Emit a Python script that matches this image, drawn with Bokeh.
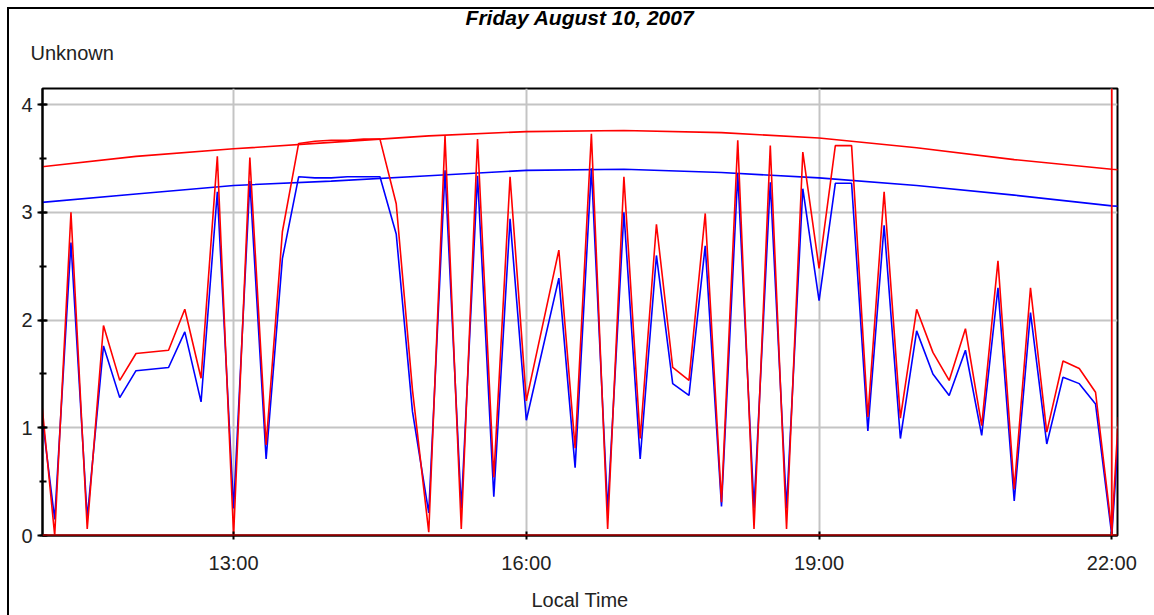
import pandas as pd
from bokeh.plotting import figure
from bokeh.models import Range1d, FixedTicker, DatetimeTickFormatter, Span, Title
from bokeh.embed import file_html
from bokeh.resources import INLINE

DAY = "2007-08-10"

# Measured values (10-minute samples), upper (red) and lower (blue) channels
measured_times = [
    "11:00", "11:10", "11:20", "11:30", "11:40", "11:50", "12:00", "12:20", "12:30", "12:40",
    "12:50", "13:00", "13:10", "13:20", "13:30", "13:40", "13:50", "14:00", "14:10", "14:20",
    "14:30", "14:40", "14:50", "15:00", "15:10", "15:20", "15:30", "15:40", "15:50", "16:00",
    "16:20", "16:30", "16:40", "16:50", "17:00", "17:10", "17:20", "17:30", "17:40", "17:50",
    "18:00", "18:10", "18:20", "18:30", "18:40", "18:50", "19:00", "19:10", "19:20", "19:30",
    "19:40", "19:50", "20:00", "20:10", "20:20", "20:30", "20:40", "20:50", "21:00", "21:10",
    "21:20", "21:30", "21:40", "21:50", "22:00", "22:04",
]
measured_upper = [
    1.55, 0.00, 3.00, 0.06, 1.95, 1.44, 1.69, 1.72, 2.10, 1.46,
    3.52, 0.00, 3.51, 0.84, 2.82, 3.64, 3.66, 3.67, 3.67, 3.68,
    3.68, 3.08, 1.35, 0.03, 3.71, 0.06, 3.68, 0.54, 3.33, 1.25,
    2.65, 0.81, 3.73, 0.06, 3.33, 0.90, 2.89, 1.56, 1.44, 2.99,
    0.31, 3.67, 0.06, 3.62, 0.06, 3.56, 2.48, 3.62, 3.62, 1.10,
    3.19, 1.09, 2.10, 1.70, 1.44, 1.92, 1.02, 2.55, 0.43, 2.30,
    0.96, 1.62, 1.55, 1.33, 0.04, 1.10,
]
measured_lower = [
    1.38, 0.15, 2.72, 0.16, 1.76, 1.28, 1.53, 1.56, 1.89, 1.24,
    3.19, 0.25, 3.29, 0.71, 2.57, 3.33, 3.32, 3.32, 3.33, 3.33,
    3.33, 2.80, 1.15, 0.21, 3.39, 0.25, 3.34, 0.36, 2.94, 1.07,
    2.39, 0.63, 3.41, 0.23, 3.00, 0.71, 2.60, 1.41, 1.30, 2.69,
    0.27, 3.36, 0.25, 3.28, 0.25, 3.22, 2.18, 3.27, 3.27, 0.97,
    2.88, 0.90, 1.90, 1.50, 1.30, 1.72, 0.93, 2.30, 0.32, 2.07,
    0.85, 1.47, 1.41, 1.22, 0.00, 0.92,
]

# Clear-sky reference curves (hourly)
clear_times = ["11:00", "12:00", "13:00", "14:00", "15:00", "16:00", "17:00",
               "18:00", "19:00", "20:00", "21:00", "22:00", "22:10"]
clear_upper = [3.42, 3.52, 3.59, 3.65, 3.71, 3.75, 3.76, 3.74, 3.69, 3.60, 3.49, 3.40, 3.39]
clear_lower = [3.09, 3.17, 3.25, 3.29, 3.34, 3.39, 3.40, 3.37, 3.32, 3.25, 3.16, 3.06, 3.05]

tick_times = ["13:00", "16:00", "19:00", "22:00"]
cutoff_time = "22:00"
baseline_value = 0.0

x_start, x_end = "11:02:30", "22:03:30"
y_start, y_end = 0.0, 4.15

title_text = "Friday August 10, 2007"
unit_text = "Unknown"
x_title = "Local Time"


def stamp(t):
    return pd.Timestamp(f"{DAY} {t}")


def stamps(ts):
    return [stamp(t) for t in ts]


def ms(t):
    return stamp(t).value // 10**6


FONT = "Liberation Sans"
RED = "#ff0000"
BLUE = "#0000ff"

p = figure(
    width=1154, height=615,
    x_axis_type="datetime",
    x_range=Range1d(stamp(x_start), stamp(x_end)),
    y_range=Range1d(y_start, y_end),
    output_backend="svg", toolbar_location=None,
    min_border_left=42, min_border_top=88, min_border_right=37, min_border_bottom=80,
    background_fill_color="white", border_fill_alpha=0,
)
# outer page frame: two black rules along the left and top edges
p.styles = {
    "background": ("linear-gradient(#000, #000) 7px 7px / 2px 100% no-repeat, "
                   "linear-gradient(#000, #000) 7px 7px / 100% 2px no-repeat, #fff"),
}
p.outline_line_color = "black"
p.outline_line_width = 2


def spacer(size):
    return Title(text=" ", standoff=0, text_font=FONT, text_font_size=size)


# heading block above the frame, listed from the frame outward
p.add_layout(spacer("21px"), "above")
p.add_layout(Title(text=unit_text, align="left", offset=-12, standoff=0,
                   text_font=FONT, text_font_size="20px", text_font_style="normal",
                   text_color="#222222"), "above")
p.add_layout(spacer("8px"), "above")
p.add_layout(Title(text=title_text, align="center", standoff=0,
                   text_font=FONT, text_font_size="21px", text_font_style="bold italic",
                   text_color="black"), "above")

# grid
for g in (p.xgrid, p.ygrid):
    g.grid_line_color = "#c4c4c4"
    g.grid_line_width = 2

# x axis
xa = p.xaxis[0]
xa.ticker = FixedTicker(ticks=[ms(t) for t in tick_times])
xa.formatter = DatetimeTickFormatter(hours="%H:%M", hourmin="%H:%M", minutes="%H:%M",
                                     days="%H:%M", months="%H:%M", years="%H:%M")
xa.axis_label = x_title
xa.axis_label_text_font = FONT
xa.axis_label_text_font_size = "20px"
xa.axis_label_text_font_style = "normal"
xa.axis_label_text_color = "#222222"
xa.axis_label_standoff = 12
xa.major_label_text_font = FONT
xa.major_label_text_font_size = "20px"
xa.major_label_text_color = "#222222"
xa.major_label_standoff = 12
xa.major_tick_in = 4
xa.major_tick_out = 4
xa.minor_tick_line_color = None
xa.axis_line_color = "black"
xa.axis_line_width = 2
xa.major_tick_line_color = "black"
xa.major_tick_line_width = 2

# y axis
ya = p.yaxis[0]
ya.ticker.desired_num_ticks = 5
ya.ticker.num_minor_ticks = 2
ya.major_label_text_font = FONT
ya.major_label_text_font_size = "20px"
ya.major_label_text_color = "#222222"
ya.major_label_standoff = 5
ya.major_tick_in = 5
ya.major_tick_out = 5
ya.minor_tick_in = 4
ya.minor_tick_out = 3
ya.axis_line_color = "black"
ya.axis_line_width = 2
ya.major_tick_line_width = 2
ya.minor_tick_line_width = 2
ya.minor_tick_line_color = "black"

# clear-sky curves
p.line(stamps(clear_times), clear_lower, line_color=BLUE, line_width=1.6)
p.line(stamps(clear_times), clear_upper, line_color=RED, line_width=1.6)

# measured series
p.line(stamps(measured_times), measured_lower, line_color=BLUE, line_width=1.6)
p.line(stamps(measured_times), measured_upper, line_color=RED, line_width=1.6)

# zero baseline and end-of-record marker
p.add_layout(Span(location=baseline_value, dimension="width", line_color=RED, line_width=2))
p.add_layout(Span(location=ms(cutoff_time), dimension="height", line_color=RED, line_width=1.6))

open("out.html", "w").write(file_html(p, INLINE))
